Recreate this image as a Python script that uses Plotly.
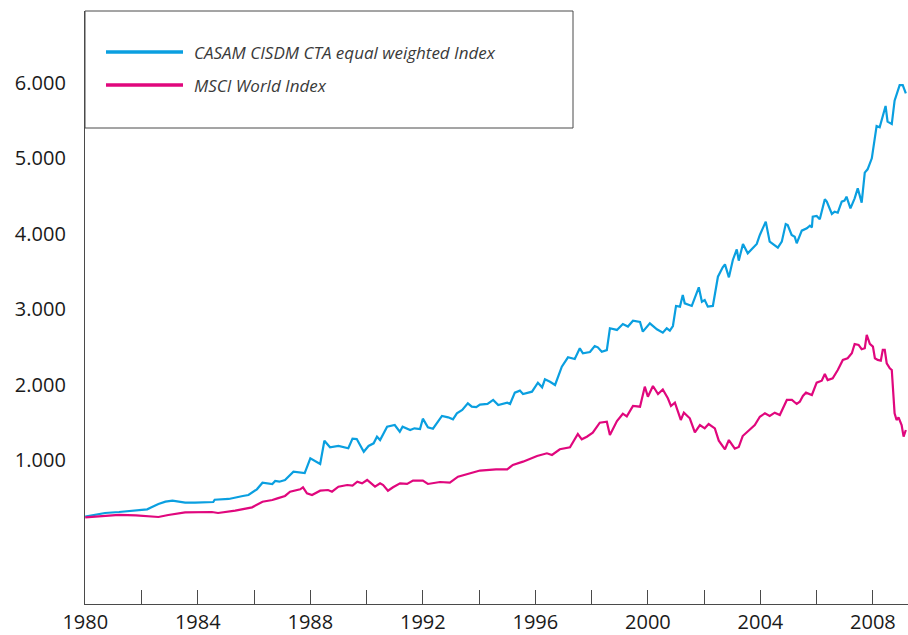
import plotly.graph_objects as go

# ---- data ----
cta_years = [1980.00, 1980.70, 1981.20, 1981.80, 1982.20, 1982.60, 1982.85, 1983.10, 1983.55, 1983.90,
             1984.55, 1984.60, 1985.10, 1985.60, 1985.80, 1986.10, 1986.30, 1986.65, 1986.75, 1986.90,
             1987.10, 1987.40, 1987.64, 1987.80, 1988.00, 1988.24, 1988.35, 1988.50, 1988.70, 1989.00,
             1989.20, 1989.35, 1989.50, 1989.65, 1989.90, 1990.07, 1990.25, 1990.37, 1990.48, 1990.73,
             1991.00, 1991.18, 1991.28, 1991.55, 1991.70, 1991.90, 1992.00, 1992.18, 1992.36, 1992.68,
             1992.90, 1993.07, 1993.21, 1993.40, 1993.60, 1993.74, 1993.90, 1994.03, 1994.30, 1994.50,
             1994.68, 1995.00, 1995.10, 1995.27, 1995.45, 1995.56, 1995.88, 1996.09, 1996.24, 1996.34,
             1996.52, 1996.70, 1996.94, 1997.16, 1997.40, 1997.58, 1997.69, 1997.94, 1998.11, 1998.22,
             1998.36, 1998.54, 1998.65, 1998.90, 1999.11, 1999.29, 1999.47, 1999.72, 1999.82, 2000.07,
             2000.32, 2000.53, 2000.67, 2000.78, 2000.89, 2001.00, 2001.14, 2001.24, 2001.31, 2001.56,
             2001.81, 2001.92, 2002.02, 2002.13, 2002.31, 2002.49, 2002.66, 2002.74, 2002.88, 2003.02,
             2003.16, 2003.23, 2003.38, 2003.55, 2003.87, 2003.98, 2004.19, 2004.33, 2004.62, 2004.76,
             2004.90, 2004.97, 2005.11, 2005.22, 2005.29, 2005.47, 2005.65, 2005.76, 2005.83, 2005.86,
             2006.00, 2006.11, 2006.29, 2006.36, 2006.54, 2006.64, 2006.75, 2006.89, 2006.99, 2007.06,
             2007.20, 2007.35, 2007.46, 2007.60, 2007.71, 2007.81, 2007.96, 2008.13, 2008.24, 2008.35,
             2008.45, 2008.52, 2008.67, 2008.77, 2008.95, 2009.06, 2009.17]
cta_values = [248, 297, 310, 328, 346, 416, 447, 460, 434, 434,
              443, 473, 483, 523, 536, 611, 699, 682, 721, 712,
              735, 845, 832, 827, 1022, 978, 947, 1256, 1168, 1186,
              1168, 1155, 1283, 1278, 1110, 1186, 1221, 1309, 1265, 1442,
              1464, 1375, 1442, 1398, 1420, 1410, 1548, 1433, 1415, 1584,
              1566, 1540, 1619, 1663, 1752, 1708, 1700, 1735, 1743, 1796,
              1729, 1760, 1743, 1893, 1920, 1875, 1906, 2025, 1964, 2070,
              2038, 1995, 2238, 2362, 2340, 2481, 2414, 2432, 2512, 2494,
              2436, 2458, 2747, 2725, 2804, 2770, 2848, 2830, 2702, 2813,
              2733, 2689, 2747, 2716, 2777, 3043, 3034, 3188, 3078, 3043,
              3290, 3100, 3122, 3034, 3043, 3431, 3556, 3595, 3422, 3653,
              3794, 3644, 3865, 3741, 3865, 3984, 4161, 3896, 3817, 3896,
              4130, 4117, 3984, 3962, 3874, 4042, 4073, 4108, 4086, 4227,
              4236, 4192, 4458, 4427, 4263, 4294, 4280, 4427, 4440, 4493,
              4338, 4470, 4603, 4413, 4811, 4855, 5001, 5430, 5412, 5553,
              5695, 5487, 5456, 5765, 5973, 5973, 5863]

msci_years = [1980.00, 1980.36, 1981.20, 1981.80, 1982.60, 1982.95, 1983.55, 1984.50, 1984.72, 1985.33,
              1985.93, 1986.30, 1986.65, 1986.83, 1987.10, 1987.28, 1987.64, 1987.74, 1987.88, 1988.06,
              1988.35, 1988.63, 1988.77, 1989.00, 1989.31, 1989.50, 1989.67, 1989.84, 1990.02, 1990.30,
              1990.48, 1990.59, 1990.76, 1990.94, 1991.19, 1991.44, 1991.65, 1992.00, 1992.18, 1992.61,
              1992.96, 1993.25, 1993.57, 1993.78, 1994.03, 1994.60, 1995.00, 1995.20, 1995.56, 1996.06,
              1996.41, 1996.59, 1996.87, 1997.23, 1997.51, 1997.65, 1997.83, 1998.04, 1998.29, 1998.54,
              1998.65, 1998.90, 1999.11, 1999.25, 1999.47, 1999.72, 1999.89, 2000.00, 2000.18, 2000.36,
              2000.53, 2000.71, 2000.82, 2000.96, 2001.17, 2001.28, 2001.49, 2001.67, 2001.85, 2002.02,
              2002.16, 2002.38, 2002.52, 2002.74, 2002.88, 2003.09, 2003.23, 2003.37, 2003.62, 2003.80,
              2003.98, 2004.16, 2004.33, 2004.51, 2004.69, 2004.94, 2005.12, 2005.29, 2005.40, 2005.51,
              2005.62, 2005.83, 2006.00, 2006.18, 2006.29, 2006.39, 2006.57, 2006.75, 2006.93, 2007.10,
              2007.25, 2007.35, 2007.49, 2007.60, 2007.71, 2007.78, 2007.89, 2008.00, 2008.07, 2008.17,
              2008.28, 2008.35, 2008.42, 2008.49, 2008.60, 2008.67, 2008.77, 2008.84, 2008.91, 2009.02,
              2009.09, 2009.17]
msci_values = [240, 248, 271, 266, 244, 271, 306, 310, 297, 328,
               372, 447, 469, 491, 523, 580, 611, 638, 558, 536,
               593, 602, 580, 646, 668, 660, 713, 690, 735, 646,
               690, 668, 593, 638, 690, 682, 726, 726, 682, 708,
               700, 779, 812, 832, 860, 876, 876, 934, 978, 1053,
               1089, 1066, 1142, 1168, 1345, 1274, 1309, 1362, 1495, 1508,
               1331, 1517, 1614, 1579, 1716, 1707, 1972, 1840, 1981, 1875,
               1935, 1818, 1716, 1760, 1531, 1628, 1553, 1367, 1464, 1420,
               1477, 1420, 1256, 1142, 1265, 1150, 1172, 1318, 1398, 1464,
               1574, 1618, 1583, 1628, 1597, 1796, 1796, 1743, 1773, 1850,
               1893, 1862, 2025, 2052, 2140, 2060, 2083, 2194, 2327, 2349,
               2415, 2539, 2527, 2469, 2482, 2658, 2539, 2504, 2349, 2327,
               2318, 2460, 2460, 2283, 2216, 2194, 1619, 1530, 1566, 1464,
               1309, 1398]

series_names = ["CASAM CISDM CTA equal weighted Index", "MSCI World Index"]
series_colors = ["#0a9fe0", "#e0077d"]

x_tickvals = [1980, 1982, 1984, 1986, 1988, 1990, 1992, 1994, 1996, 1998, 2000, 2002, 2004, 2006, 2008]
x_ticktext = ["1980", "", "1984", "", "1988", "", "1992", "", "1996", "", "2000", "", "2004", "", "2008"]
y_tickvals = [1000, 2000, 3000, 4000, 5000, 6000]
y_ticktext = ["1.000", "2.000", "3.000", "4.000", "5.000", "6.000"]

FONT = "Open Sans"
AXIS = "#4a4a4a"

fig = go.Figure()
fig.add_trace(go.Scatter(x=cta_years, y=cta_values, mode="lines", name=series_names[0],
                         line=dict(color=series_colors[0], width=2.2), showlegend=False))
fig.add_trace(go.Scatter(x=msci_years, y=msci_values, mode="lines", name=series_names[1],
                         line=dict(color=series_colors[1], width=2.2), showlegend=False))

W, H = 908, 635
L, R, T, B = 85, 0, 11, 31
pw, ph = W - L - R, H - T - B

def px(x):
    return (x - L) / pw

def py(y):
    return (H - B - y) / ph

# legend box
fig.add_shape(type="rect", xref="paper", yref="paper", x0=px(85), x1=px(573), y0=py(128), y1=py(11),
              line=dict(color=AXIS, width=1), fillcolor="rgba(0,0,0,0)")
for i, yy in enumerate([52, 85]):
    fig.add_shape(type="line", xref="paper", yref="paper", x0=px(106), x1=px(183), y0=py(yy), y1=py(yy),
                  line=dict(color=series_colors[i], width=3.5))
    fig.add_annotation(xref="paper", yref="paper", x=px(192), y=py(yy), xanchor="left", yanchor="middle",
                       text="<i>" + series_names[i] + "</i>", showarrow=False,
                       font=dict(family=FONT, size=17, color="#3a3a3a"))

fig.update_layout(
    width=W, height=H,
    margin=dict(l=L, r=R, t=T, b=B, pad=0, autoexpand=False),
    paper_bgcolor="white", plot_bgcolor="white",
    font=dict(family=FONT, size=20, color="#1a1a1a"),
    xaxis=dict(range=[1979.99, 1980 + (W - L - R) / 28.14], tickvals=x_tickvals, ticktext=x_ticktext,
               ticks="inside", ticklen=14, tickwidth=1, tickcolor=AXIS, automargin=False,
               showline=True, linecolor=AXIS, linewidth=1.3, showgrid=False, zeroline=False,
               tickfont=dict(family=FONT, size=20, color="#1a1a1a")),
    yaxis=dict(range=[-910, 6955], tickvals=y_tickvals, ticktext=y_ticktext, automargin=False,
               ticks="", showline=True, linecolor=AXIS, linewidth=1.3, showgrid=False, zeroline=False,
               ticklabelstandoff=14,
               tickfont=dict(family=FONT, size=20, color="#1a1a1a")),
)

fig.write_html("out.html", config={"displayModeBar": False})

# remove the browser's default page margin so the figure sits at the window origin
with open("out.html", encoding="utf-8") as f:
    html = f.read()
html = html.replace("<head>", "<head><style>html,body{margin:0;padding:0;overflow:hidden;}</style>", 1)
with open("out.html", "w", encoding="utf-8") as f:
    f.write(html)
